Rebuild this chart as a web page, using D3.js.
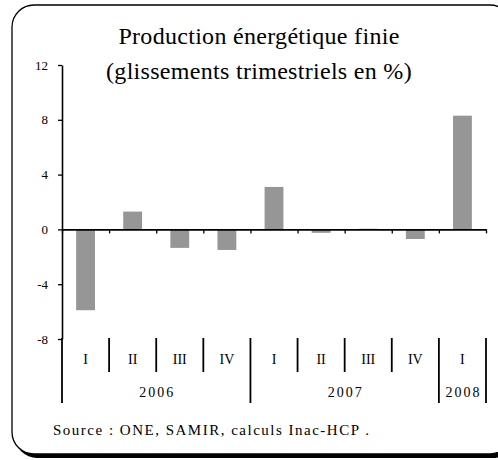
<!DOCTYPE html>
<html lang="fr">
<head>
<meta charset="UTF-8" />
<title>Production énergétique finie</title>
<style>
  body { margin: 0; background: #fff; overflow: hidden; }
</style>
</head>
<body>
<svg width="498" height="460" id="svg" font-family="'Liberation Serif', 'Times New Roman', serif"></svg>
<script src="https://cdn.jsdelivr.net/npm/d3@7"></script>
<script>
  // data
  const quarters = ["I", "II", "III", "IV", "I", "II", "III", "IV", "I"]
  const years = ["2006", "2007", "2008"]
  const yearCounts = [4, 4, 1]
  const values = [-5.9, 1.3, -1.35, -1.5, 3.1, -0.25, 0.05, -0.7, 8.3]
  const yTicks = [-8, -4, 0, 4, 8, 12]
  const titleLines = ["Production énergétique finie", "(glissements trimestriels en %)"]
  const source = "Source : ONE, SAMIR, calculs Inac-HCP ."

  const serif = "'Liberation Serif', 'Times New Roman', serif"
  const svg = d3.select("#svg")
  const left = 62, right = 486

  // frame with shadow
  svg.append("rect")
    .attr("x", 15).attr("y", 9).attr("width", 500).attr("height", 449)
    .attr("rx", 22).attr("fill", "#000")
  svg.append("rect")
    .attr("x", 12).attr("y", 5).attr("width", 500).attr("height", 449)
    .attr("rx", 22).attr("fill", "#fff")
    .attr("stroke", "#000").attr("stroke-width", 1.3)

  const y = d3.scaleLinear().domain([-8, 12]).range([339, 65])
  const x = d3.scaleBand().domain(d3.range(values.length)).range([left, right])
    .paddingInner(0.6).paddingOuter(0.3)
  const xb = d3.scaleLinear().domain([0, values.length]).range([left, right])

  // title
  svg.append("text")
    .attr("font-family", serif)
    .attr("text-anchor", "middle").attr("font-size", 24).attr("letter-spacing", 0.3)
    .selectAll("tspan").data(titleLines).join("tspan")
    .attr("x", 259).attr("y", (d, i) => 44 + i * 35)
    .text(d => d)

  // bars
  svg.append("g").selectAll("rect").data(values).join("rect")
    .attr("x", (d, i) => x(i))
    .attr("width", x.bandwidth())
    .attr("y", d => y(Math.max(0, d)))
    .attr("height", d => Math.abs(y(d) - y(0)))
    .attr("fill", "#969696")

  // y axis
  const yAxis = svg.append("g")
    .attr("transform", `translate(${left},0)`)
    .call(d3.axisLeft(y).tickValues(yTicks).tickFormat(d => String(d))
      .tickSize(4).tickPadding(10).tickSizeOuter(0))
  yAxis.attr("font-family", serif).attr("font-size", 13)
  yAxis.select(".domain").attr("stroke-width", 1.6)
  yAxis.selectAll(".tick line").attr("stroke-width", 1.3)

  // zero line with small ticks at category boundaries
  const xAxis = svg.append("g")
    .attr("transform", `translate(0,${y(0)})`)
    .call(d3.axisBottom(xb).tickValues(d3.range(values.length + 1)).tickSize(4)
      .tickFormat("").tickSizeOuter(0))
  xAxis.select(".domain").attr("stroke-width", 1.6)
  xAxis.selectAll(".tick line").attr("stroke-width", 1.3)

  // category axis: quarter and year separators
  const yearEnds = Array.from(d3.cumsum(yearCounts))
  const yearStarts = [0].concat(yearEnds.slice(0, -1))
  const sep = svg.append("g").attr("stroke", "#000").attr("stroke-width", 1.8)
  sep.selectAll("line").data(d3.range(values.length + 1)).join("line")
    .attr("x1", d => xb(d)).attr("x2", d => xb(d))
    .attr("y1", 338)
    .attr("y2", d => (d === 0 || yearEnds.includes(d)) ? 403 : 372)

  svg.append("g").attr("font-family", serif)
    .selectAll("text").data(quarters).join("text")
    .attr("x", (d, i) => xb(i + 0.5)).attr("y", 364)
    .attr("text-anchor", "middle").attr("font-size", 14)
    .text(d => d)

  svg.append("g").attr("font-family", serif)
    .selectAll("text").data(years).join("text")
    .attr("x", (d, i) => xb(yearStarts[i] + yearCounts[i] / 2) + 1).attr("y", 397)
    .attr("text-anchor", "middle").attr("font-size", 14)
    .attr("letter-spacing", 2)
    .text(d => d)

  // source
  svg.append("text")
    .attr("font-family", serif)
    .attr("x", 53).attr("y", 435).attr("font-size", 15)
    .attr("letter-spacing", 1.5)
    .text(source)
</script>
</body>
</html>
